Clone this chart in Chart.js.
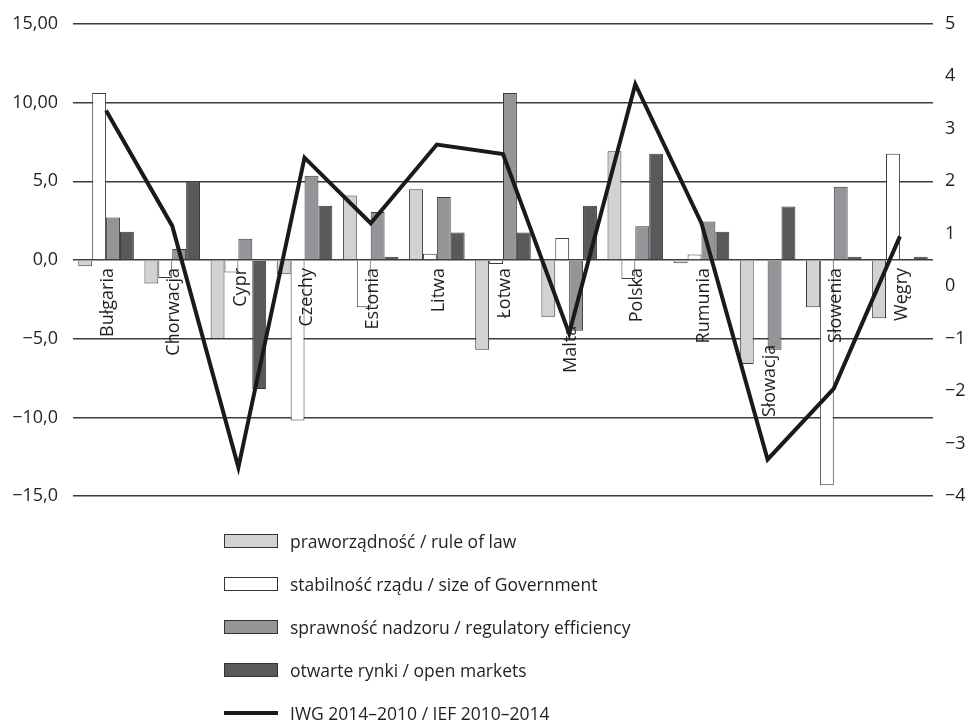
<!DOCTYPE html>
<html>
<head>
<meta charset="utf-8">
<script src="https://cdn.jsdelivr.net/npm/chart.js@4"></script>
<style>
  body { margin: 0; background: #fff; font-family: "Open Sans", sans-serif; color: #231f20; overflow: hidden; }
  #wrap { position: relative; width: 971px; height: 524px; margin-top: -2px; }
  #legend { position: absolute; left: 224px; top: 519px; }
  .item { display: flex; align-items: center; height: 43px; font-size: 17.5px; }
  .swatch { width: 52px; height: 12px; border: 1px solid #333; margin-right: 12px; }
  .lineSwatch { width: 54px; height: 4px; background: #1a1a1a; margin-right: 12px; }
</style>
</head>
<body>
<div id="wrap"><canvas id="chart"></canvas></div>
<div id="legend"></div>
<script>
const countries = ["Bułgaria", "Chorwacja", "Cypr", "Czechy", "Estonia", "Litwa", "Łotwa",
  "Malta", "Polska", "Rumunia", "Słowacja", "Słowenia", "Węgry"];

const ruleOfLaw    = [-0.4, -1.5, -5.0, -0.9, 4.1, 4.5, -5.7, -3.6, 6.9, -0.2, -6.6, -3.0, -3.7];
const govSize      = [10.6, -1.15, -0.8, -10.2, -3.0, 0.4, -0.25, 1.4, -1.2, 0.35, 0.0, -14.3, 6.75];
const regulatory   = [2.7, 0.7, 1.35, 5.35, 3.05, 4.0, 10.6, -4.5, 2.15, 2.45, -5.7, 4.65, 0.05];
const openMarkets  = [1.8, 5.0, -8.2, 3.45, 0.2, 1.75, 1.75, 3.45, 6.75, 1.8, 3.4, 0.2, 0.2];
const iwgIef       = [3.35, 1.15, -3.45, 2.45, 1.2, 2.7, 2.52, -0.9, 3.85, 1.2, -3.3, -1.95, 0.95];

const leftTicks  = { "15": "15,00", "10": "10,00", "5": "5,0", "0": "0,0", "-5": "−5,0", "-10": "−10,0", "-15": "−15,0" };
const rightTicks = { "5": "5", "4": "4", "3": "3", "2": "2", "1": "1", "0": "0", "-1": "−1", "-2": "−2", "-3": "−3", "-4": "−4" };

const FONT = "'Open Sans', sans-serif";

function bar(label, data, color) {
  return {
    type: "bar", label, data, backgroundColor: color,
    borderColor: "#3a3a3a", borderWidth: 1, yAxisID: "y", order: 1,
    categoryPercentage: 0.84, barPercentage: 1.0
  };
}

// country names drawn vertically near the zero line
const countryLabels = {
  id: "countryLabels",
  afterDatasetsDraw(chart) {
    const { ctx, scales: { x, y } } = chart;
    const zero = y.getPixelForValue(0);
    ctx.save();
    ctx.font = "18px " + FONT;
    ctx.fillStyle = "#231f20";
    ctx.textAlign = "right";
    ctx.textBaseline = "middle";
    countries.forEach((name, i) => {
      let top = zero + 8;
      if (regulatory[i] < -4) top = y.getPixelForValue(regulatory[i]) - 5;
      ctx.save();
      ctx.translate(x.getPixelForValue(i) + 2, top);
      ctx.rotate(-Math.PI / 2);
      ctx.fillText(name, 0, 0);
      ctx.restore();
    });
    ctx.restore();
  }
};

const chart = new Chart(document.getElementById("chart"), {
  data: {
    labels: countries,
    datasets: [
      bar("praworządność / rule of law", ruleOfLaw, "#d1d2d4"),
      bar("stabilność rządu / size of Government", govSize, "#ffffff"),
      bar("sprawność nadzoru / regulatory efficiency", regulatory, "#939598"),
      bar("otwarte rynki / open markets", openMarkets, "#58595b"),
      {
        type: "line", label: "IWG 2014–2010 / IEF 2010–2014", data: iwgIef,
        borderColor: "#1a1a1a", borderWidth: 4, pointRadius: 0, tension: 0,
        yAxisID: "y2", order: 0
      }
    ]
  },
  options: {
    responsive: true,
    maintainAspectRatio: false,
    animation: false,
    layout: { padding: { top: 21, bottom: 13, left: 0, right: 0 } },
    plugins: { legend: { display: false }, tooltip: { enabled: false } },
    scales: {
      x: { display: false, offset: true },
      y: {
        position: "left", min: -15, max: 15,
        ticks: {
          stepSize: 5, padding: 15, color: "#231f20",
          font: { family: FONT, size: 18 },
          callback: v => leftTicks[String(v)]
        },
        grid: { color: "#3c3c3c", lineWidth: 1.5, drawTicks: false },
        border: { display: false },
        afterFit: s => { s.width = 73; }
      },
      y2: {
        position: "right", min: -4, max: 5,
        ticks: {
          stepSize: 1, padding: 12, color: "#231f20",
          font: { family: FONT, size: 18 },
          callback: v => rightTicks[String(v)]
        },
        grid: { display: false, drawTicks: false },
        border: { display: false },
        afterFit: s => { s.width = 38; }
      }
    }
  },
  plugins: [countryLabels]
});

// legend listed vertically under the chart
const legend = document.getElementById("legend");
chart.data.datasets.forEach(ds => {
  const row = document.createElement("div");
  row.className = "item";
  const sw = document.createElement("span");
  if (ds.type === "line") {
    sw.className = "lineSwatch";
  } else {
    sw.className = "swatch";
    sw.style.background = ds.backgroundColor;
  }
  const txt = document.createElement("span");
  txt.textContent = ds.label;
  row.appendChild(sw);
  row.appendChild(txt);
  legend.appendChild(row);
});
</script>
</body>
</html>
